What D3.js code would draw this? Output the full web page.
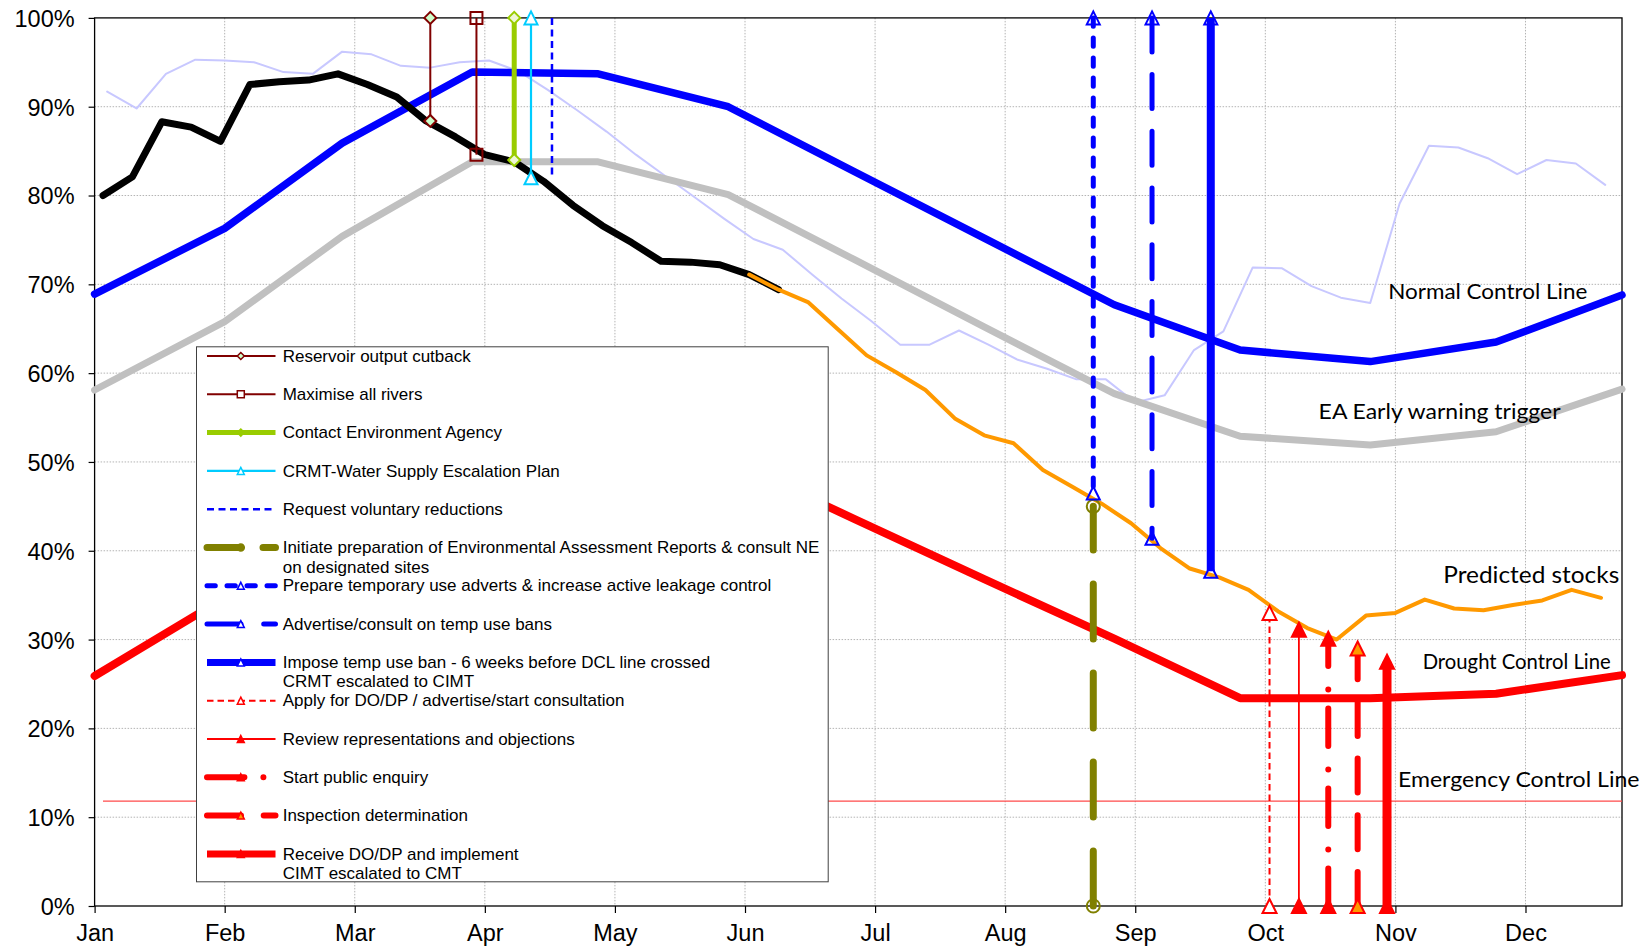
<!DOCTYPE html>
<html>
<head>
<meta charset="utf-8">
<script src="https://cdn.jsdelivr.net/npm/d3@7"></script>
<style>
  body { margin: 0; background: #fff; }
  svg { display: block; }
</style>
</head>
<body>
<svg id="chart" width="1648" height="950"></svg>
<script>
// ---- Axis definitions (x = day of year, Jan 1 = 0; y = % storage) ----
const monthLabels   = ["Jan","Feb","Mar","Apr","May","Jun","Jul","Aug","Sep","Oct","Nov","Dec"];
const monthTickDays = [0, 31, 62, 93, 124, 155, 186, 217, 248, 279, 310, 341];
const yTickValues   = [0, 10, 20, 30, 40, 50, 60, 70, 80, 90, 100];

// ---- Control curves, defined on the first of each month ----
const controlDays    = [0, 31, 59, 90, 120, 151, 181, 212, 243, 273, 304, 334, 364];
const normalControl  = [68.9, 76.3, 85.9, 93.9, 93.7, 90.0, 82.7, 75.2, 67.7, 62.6, 61.3, 63.5, 68.8];
const earlyWarning   = [58.1, 65.8, 75.4, 83.8, 83.8, 80.1, 72.8, 65.2, 57.7, 52.9, 51.9, 53.4, 58.2];
const droughtControl = [25.9, 34.7, 40.8, 46.2, 49.5, 50.2, 43.6, 36.8, 30.1, 23.4, 23.4, 23.9, 26.0];
const emergencyDays    = [2, 364];
const emergencyControl = [11.8, 11.8];

// ---- Weekly storage: previous year ----
const lastYearDays = [3, 10, 17, 24, 31, 38, 45, 52, 59, 66, 73, 80, 87, 94, 101, 108, 115, 122, 129, 136,
  143, 150, 157, 164, 171, 178, 185, 192, 199, 206, 213, 220, 227, 234, 241, 248, 255, 262, 269, 276,
  283, 290, 297, 304, 311, 318, 325, 332, 339, 346, 353, 360];
const lastYearStock = [91.7, 89.8, 93.7, 95.3, 95.2, 95.0, 93.9, 93.7, 96.2, 95.9, 94.6, 94.4, 95.0, 95.2,
  94.0, 91.9, 89.6, 87.2, 84.6, 82.2, 79.8, 77.4, 75.1, 73.9, 71.1, 68.4, 65.9, 63.2, 63.2, 64.8, 63.2,
  61.5, 60.5, 59.3, 59.3, 56.7, 57.5, 62.6, 64.7, 71.9, 71.8, 69.8, 68.5, 67.9, 79.1, 85.6, 85.4, 84.2,
  82.4, 84.0, 83.6, 81.2];

// ---- Weekly storage: this year (actual) ----
const actualDays  = [2, 9, 16, 23, 30, 37, 44, 51, 58, 65, 72, 79, 86, 93, 100, 107, 114, 121, 128, 135, 142, 149, 156, 163];
const actualStock = [80.0, 82.1, 88.3, 87.7, 86.1, 92.5, 92.8, 93.0, 93.7, 92.5, 91.1, 88.4, 86.6, 84.6,
  83.8, 81.6, 78.9, 76.6, 74.7, 72.6, 72.5, 72.2, 71.1, 69.4];

// ---- Weekly storage: predicted ----
const predictedDays  = [156, 163, 170, 177, 184, 191, 198, 205, 212, 219, 226, 233, 240, 247, 254, 261, 268,
  275, 282, 289, 296, 303, 310, 317, 324, 331, 338, 345, 352, 359];
const predictedStock = [71.1, 69.4, 68.0, 65.0, 62.0, 60.1, 58.1, 54.9, 53.0, 52.1, 49.1, 47.2, 45.3, 43.1,
  40.3, 38.0, 37.0, 35.6, 33.2, 31.3, 30.0, 32.7, 33.0, 34.5, 33.5, 33.3, 33.9, 34.4, 35.6, 34.7];

// ---- Drought actions: day taken, and the vertical span drawn (from -> to, %) ----
const actionNames = [
  "Reservoir output cutback",
  "Maximise all rivers",
  "Contact Environment Agency",
  "CRMT-Water Supply Escalation Plan",
  "Request voluntary reductions",
  "Initiate preparation of Environmental Assessment Reports & consult NE\non designated sites",
  "Prepare temporary use adverts & increase active leakage control",
  "Advertise/consult on temp use bans",
  "Impose temp use ban - 6 weeks before DCL line crossed\nCRMT escalated to CIMT",
  "Apply for DO/DP / advertise/start consultation",
  "Review representations and objections",
  "Start public enquiry",
  "Inspection determination",
  "Receive DO/DP and implement\nCIMT escalated to CMT"
];
const actionDays = [80, 91, 100, 104, 109, 238, 238, 252, 266, 280, 287, 294, 301, 308];
const actionFrom = [100, 100, 100, 100, 100, 0, 100, 100, 100, 0, 0, 0, 0, 0];
const actionTo   = [88.4, 84.6, 84.0, 82.0, 81.9, 45.0, 46.5, 41.4, 37.7, 33.0, 31.1, 30.1, 29.0, 27.5];

// ---- Curve labels (anchor day, anchor %) ----
const curveLabels    = ["Normal Control Line", "EA Early warning trigger", "Predicted stocks", "Drought Control Line", "Emergency Control Line"];
const curveLabelDay  = [308.3, 291.7, 321.4, 316.5, 310.6];
const curveLabelPct  = [68.35, 54.84, 36.34, 26.65, 13.37];

// ---- Styling for each action line ----
const actionStyles = [
  { color: "#800000", width: 2,   dash: null, marker: "diamond",  size: 12, fill: "#ccffcc" },
  { color: "#800000", width: 2,   dash: null, marker: "square",   size: 12, fill: "none" },
  { color: "#99cc00", width: 5,   dash: null, marker: "diamond",  size: 12, fill: "#eef6d6", legendFill: "#99cc00" },
  { color: "#00ccff", width: 2.2, dash: null, marker: "triangle", size: 13, fill: "#ffffff" },
  { color: "#0000ff", width: 2.5, dash: "7,4.5", cap: "butt", marker: null },
  { color: "#808000", width: 7,   dash: "55,34", cap: "round", marker: "circle", size: 13, fill: "none", legendFill: "#808000", legendDash: "31,25" },
  { color: "#0000ff", width: 5,   dash: "8.3,11.7", cap: "round", marker: "triangle", size: 13, fill: "none" },
  { color: "#0000ff", width: 5,   dash: "34,22.7", cap: "round", marker: "triangle", size: 13, fill: "none" },
  { color: "#0000ff", width: 8,   dash: null, marker: "triangle", size: 13, fill: "none" },
  { color: "#ff0000", width: 2,   dash: "6.5,4", cap: "butt", marker: "triangle", size: 14, fill: "#ffffff" },
  { color: "#ff0000", width: 1.8, dash: null, marker: "triangle", size: 14, fill: "#ff0000" },
  { color: "#ff0000", width: 6,   dash: "37.4,19,0,23.6", cap: "round", marker: "triangle", size: 14, fill: "#ff0000" },
  { color: "#ff0000", width: 6,   dash: "34,22.7", cap: "round", marker: "triangle", size: 14, fill: "#ff9900" },
  { color: "#ff0000", width: 9,   dash: null, marker: "triangle", size: 14, fill: "#ff0000" }
];

// ---- Layout ----
const plot = { left: 94.6, right: 1622, top: 17.9, bottom: 906 };
const svg = d3.select("#chart");

const x = d3.scaleLinear().domain([0, 364]).range([plot.left, plot.right]);
const y = d3.scaleLinear().domain([0, 100]).range([plot.bottom, plot.top]);

const lineGen = d3.line().x(d => x(d[0])).y(d => y(d[1]));
const zip = (a, b) => a.map((v, i) => [v, b[i]]);

// ---- Gridlines ----
const grid = svg.append("g").attr("class", "grid");
grid.selectAll("line.h").data(yTickValues.filter(v => v > 0 && v < 100)).join("line")
  .attr("x1", plot.left).attr("x2", plot.right)
  .attr("y1", d => y(d)).attr("y2", d => y(d))
  .attr("stroke", "#b4b4b4").attr("stroke-width", 1).attr("stroke-dasharray", "1.5,1.5");
grid.selectAll("line.v").data(monthTickDays.filter(d => d > 0)).join("line")
  .attr("x1", d => x(d)).attr("x2", d => x(d))
  .attr("y1", plot.top).attr("y2", plot.bottom)
  .attr("stroke", "#b4b4b4").attr("stroke-width", 1).attr("stroke-dasharray", "1.5,1.5");

// ---- Axes ----
const yAxis = d3.axisLeft(y).tickValues(yTickValues).tickFormat(d => d + "%").tickSize(6).tickPadding(14);
const gy = svg.append("g").attr("transform", `translate(${plot.left},0)`).call(yAxis);
gy.select(".domain").remove();
gy.selectAll(".tick line").attr("stroke", "#000").attr("stroke-width", 1.2);
gy.selectAll(".tick text").attr("font-family", "'Liberation Sans', Arial, sans-serif")
  .attr("font-size", 23.5).attr("fill", "#000").attr("dy", "0.36em");

const xAxis = d3.axisBottom(x).tickValues(monthTickDays).tickFormat((d, i) => monthLabels[i]).tickSize(7).tickPadding(12);
const gx = svg.append("g").attr("transform", `translate(0,${plot.bottom})`).call(xAxis);
gx.select(".domain").remove();
gx.selectAll(".tick line").attr("stroke", "#000").attr("stroke-width", 1.2);
gx.selectAll(".tick text").attr("font-family", "'Liberation Sans', Arial, sans-serif")
  .attr("font-size", 23.5).attr("fill", "#000").attr("dy", "0.7em");

// ---- Plot frame ----
svg.append("rect")
  .attr("x", plot.left).attr("y", plot.top)
  .attr("width", plot.right - plot.left).attr("height", plot.bottom - plot.top)
  .attr("fill", "none").attr("stroke", "#000").attr("stroke-width", 1.3);

// ---- Series ----
const series = svg.append("g").attr("class", "series")
  .attr("fill", "none").attr("stroke-linejoin", "round").attr("stroke-linecap", "round");

function drawSeries(days, vals, color, width) {
  series.append("path").datum(zip(days, vals))
    .attr("d", lineGen).attr("stroke", color).attr("stroke-width", width);
}
drawSeries(lastYearDays, lastYearStock, "#c8c8ff", 2);
drawSeries(controlDays, earlyWarning, "#c0c0c0", 7);
drawSeries(controlDays, normalControl, "#0000ff", 7.5);
drawSeries(controlDays, droughtControl, "#ff0000", 8);
series.append("path").datum(zip(emergencyDays, emergencyControl))
  .attr("d", lineGen).attr("stroke", "#ff4a4a").attr("stroke-width", 1.2).attr("stroke-linecap", "butt");
drawSeries(actualDays, actualStock, "#000000", 7);
drawSeries(predictedDays, predictedStock, "#ff9900", 4);

// ---- Marker shapes ----
function markerPath(type, s) {
  const h = s / 2;
  if (type === "diamond") return `M0,${-h}L${h},0L0,${h}L${-h},0Z`;
  if (type === "square") return `M${-h},${-h}H${h}V${h}H${-h}Z`;
  if (type === "triangle") return `M0,${-h}L${h},${h}L${-h},${h}Z`;
  if (type === "circle") return d3.arc()({ innerRadius: 0, outerRadius: h, startAngle: 0, endAngle: 2 * Math.PI });
  return "";
}

// ---- Action lines ----
const actions = svg.append("g").attr("class", "actions").attr("fill", "none");
actionDays.forEach((day, i) => {
  const st = actionStyles[i];
  const pts = [[day, actionFrom[i]], [day, actionTo[i]]];
  actions.append("path").datum(pts)
    .attr("d", lineGen)
    .attr("stroke", st.color).attr("stroke-width", st.width)
    .attr("stroke-dasharray", st.dash)
    .attr("stroke-linecap", st.cap || "butt");
  if (st.marker) {
    pts.forEach(p => {
      actions.append("path")
        .attr("d", markerPath(st.marker, st.size))
        .attr("transform", `translate(${x(p[0])},${y(p[1])})`)
        .attr("fill", st.fill).attr("stroke", st.color).attr("stroke-width", 2);
    });
  }
});

// ---- Curve labels ----
const labelWidths = [199, 242, 176, 188, 241.6];
const labelSizes = [22, 22, 23, 22, 22];
svg.append("g").selectAll("text").data(curveLabels).join("text")
  .attr("x", (d, i) => x(curveLabelDay[i]))
  .attr("y", (d, i) => y(curveLabelPct[i]))
  .attr("font-family", "Lato, 'Open Sans', sans-serif")
  .attr("font-size", (d, i) => labelSizes[i])
  .attr("textLength", (d, i) => labelWidths[i])
  .attr("lengthAdjust", "spacingAndGlyphs")
  .attr("fill", "#000")
  .text(d => d);

// ---- Legend ----
const legend = svg.append("g").attr("class", "legend");
legend.append("rect")
  .attr("x", 196.5).attr("y", 346.8).attr("width", 631.7).attr("height", 535)
  .attr("fill", "#fff").attr("stroke", "#404040").attr("stroke-width", 1);

const legendRow0 = 356, legendStep = 38.3;
actionNames.forEach((name, i) => {
  const st = actionStyles[i];
  const ly = legendRow0 + i * legendStep;
  legend.append("line")
    .attr("x1", 207).attr("x2", 275.5).attr("y1", ly).attr("y2", ly)
    .attr("stroke", st.color).attr("stroke-width", Math.min(st.width, 7))
    .attr("stroke-dasharray", st.legendDash || st.dash)
    .attr("stroke-linecap", st.cap || "butt");
  if (st.marker) {
    legend.append("path")
      .attr("d", markerPath(st.marker, 7))
      .attr("transform", `translate(240.8,${ly})`)
      .attr("fill", st.legendFill || (st.fill === "none" ? "#fff" : st.fill))
      .attr("stroke", st.color).attr("stroke-width", 1.5);
  }
  const t = legend.append("text")
    .attr("x", 282.7).attr("y", ly + 5.6)
    .attr("font-family", "'Liberation Sans', Arial, sans-serif")
    .attr("font-size", 17).attr("fill", "#000");
  name.split("\n").forEach((part, k) => {
    t.append("tspan").attr("x", 282.7).attr("dy", k === 0 ? 0 : 19.4).text(part);
  });
});
</script>
</body>
</html>
